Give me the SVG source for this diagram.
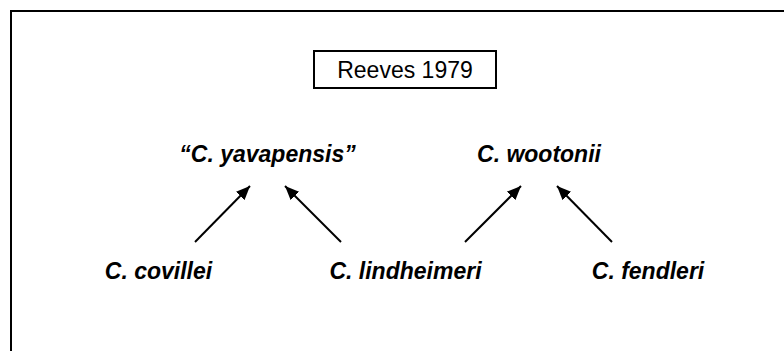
<svg xmlns="http://www.w3.org/2000/svg" width="784" height="351" viewBox="0 0 784 351">
<defs>
<style>
.lbl{font-family:"Liberation Sans",Arial,sans-serif;font-size:23px;font-weight:bold;font-style:italic;fill:#000;text-anchor:middle}
.title{font-family:"Liberation Sans",Arial,sans-serif;font-size:23px;fill:#000;text-anchor:middle}
.edge{stroke:#000;stroke-width:2;fill:none;marker-end:url(#ah)}
</style>
<marker id="ah" markerUnits="userSpaceOnUse" markerWidth="16" markerHeight="14" refX="14" refY="6" orient="auto">
<path d="M0,0 L14,6 L0,12 Z" fill="#000"/>
</marker>
</defs>
<rect width="784" height="351" fill="#fff"/>
<path d="M11,351 V11 H784" fill="none" stroke="#000" stroke-width="2"/>
<g id="reeves">
<rect x="314" y="51" width="182" height="37" fill="#fff" stroke="#000" stroke-width="2"/>
<text class="title" x="405" y="77.5">Reeves 1979</text>
</g>
<g id="yavapensis"><text class="lbl" x="267.5" y="162">“C. yavapensis”</text></g>
<g id="wootonii"><text class="lbl" x="539" y="162">C. wootonii</text></g>
<g id="covillei"><text class="lbl" x="158.5" y="279">C. covillei</text></g>
<g id="lindheimeri"><text class="lbl" x="405.5" y="279">C. lindheimeri</text></g>
<g id="fendleri"><text class="lbl" x="648" y="279">C. fendleri</text></g>
<g id="connectors">
<line class="edge" x1="195" y1="242" x2="250" y2="186"/>
<line class="edge" x1="341" y1="242" x2="285" y2="186"/>
<line class="edge" x1="465" y1="242" x2="521" y2="186"/>
<line class="edge" x1="612" y1="242" x2="557" y2="186"/>
</g>
</svg>
